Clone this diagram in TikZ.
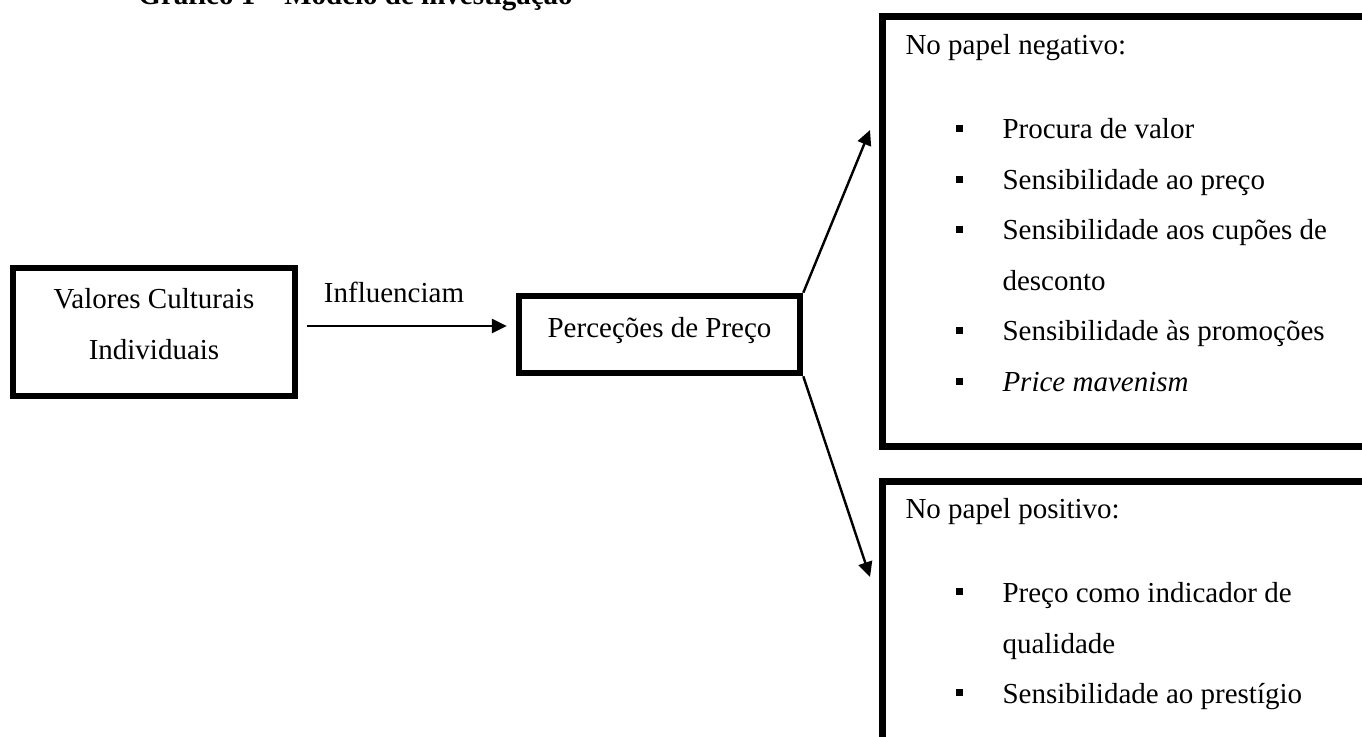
\documentclass[tikz,border=0pt]{standalone}
\usepackage{fontspec}
\setmainfont{Liberation Serif}
\usepackage{tikz}
\usetikzlibrary{positioning,arrows.meta}
\newcommand{\px}{0.4138pt}

\begin{document}
\begin{tikzpicture}[x=0.4138pt,y=-0.4138pt,font=\fontsize{12pt}{14pt}\selectfont,
  frame/.style={draw,line width=2.7pt,inner sep=0pt},
  conn/.style={line width=1pt,-{Triangle[length=6.2pt,width=5.8pt]}},
  txt/.style={anchor=base west,inner sep=0pt},
  ctxt/.style={anchor=base,inner sep=0pt},
  bulletsq/.style={fill,inner sep=0pt,minimum size=7*\px}]
\useasboundingbox (0,0) rectangle (1362,737);
\clip (0,0) rectangle (1362,737);
\node[txt,font=\fontsize{12pt}{14pt}\selectfont\bfseries] (titulo) at (138,5) {Gráfico 1 – Modelo de investigação};
% caixas
\node[frame,minimum width=282*\px,minimum height=128*\px] (valores) at (154,332) {};
\node[frame,minimum width=281*\px,minimum height=77*\px] (precos) at (659.5,334.5) {};
\node[frame,anchor=north west,minimum width=560*\px,minimum height=430*\px] (negativo) at (879,13) {};
\node[frame,anchor=north west,minimum width=560*\px,minimum height=400*\px] (positivo) at (879,478) {};
% textos das caixas
\node[ctxt] (valoresA) at (154,309) {Valores Culturais};
\node[ctxt] (valoresB) at (154,360) {Individuais};
\node[ctxt] (influenciam) at (394,303) {Influenciam};
\node[ctxt] (precoT) at (659.5,338) {Perceções de Preço};
% papel negativo
\node[txt] (negT) at (905,55) {No papel negativo:};
\node[bulletsq] (nb1) at (959.5,128.5) {};
\node[txt] (neg1) at (1002,139) {Procura de valor};
\node[bulletsq] (nb2) at (959.5,179.5) {};
\node[txt] (neg2) at (1002,190) {Sensibilidade ao preço};
\node[bulletsq] (nb3) at (959.5,229.5) {};
\node[txt] (neg3) at (1002,240) {Sensibilidade aos cupões de};
\node[txt] (neg3b) at (1002,291) {desconto};
\node[bulletsq] (nb4) at (959.5,330.5) {};
\node[txt] (neg4) at (1002,341) {Sensibilidade às promoções};
\node[bulletsq] (nb5) at (959.5,381.5) {};
\node[txt] (neg5) at (1002,392) {\textit{Price mavenism}};
% papel positivo
\node[txt] (posT) at (905,518) {No papel positivo:};
\node[bulletsq] (pb1) at (959.5,591.5) {};
\node[txt] (pos1) at (1002,602) {Preço como indicador de};
\node[txt] (pos1b) at (1002,653) {qualidade};
\node[bulletsq] (pb2) at (959.5,692.5) {};
\node[txt] (pos2) at (1002,703) {Sensibilidade ao prestígio};
% setas
\coordinate (negtip) at (870,130);
\coordinate (postip) at (870,577);
\draw[conn,shorten <=3.7pt,shorten >=3.7pt] (valores.east |- 0,326) -- (precos.west |- 0,326);
\draw[conn] (precos.north east) -- (negtip);
\draw[conn] (precos.south east) -- (postip);
\end{tikzpicture}
\end{document}
